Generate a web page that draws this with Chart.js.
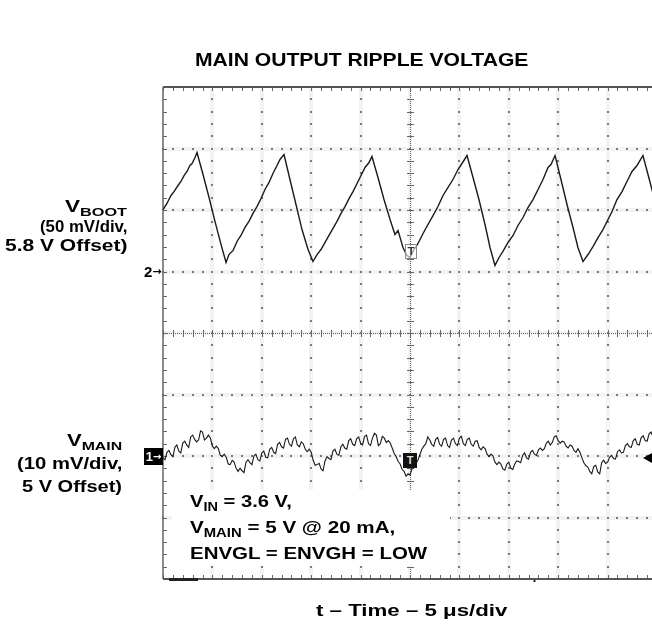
<!DOCTYPE html>
<html>
<head>
<meta charset="utf-8">
<script src="https://cdn.jsdelivr.net/npm/chart.js@4.4.1/dist/chart.umd.min.js"></script>
<style>
  html, body { margin: 0; padding: 0; overflow: hidden; background: #fff; width: 652px; height: 628px; }
  #wrap { position: absolute; left: 0; top: 0; width: 660px; height: 628px; }
  .t { position: absolute; white-space: nowrap; font-family: "Liberation Sans", Arial, Helvetica, sans-serif;
       font-weight: bold; color: #000; display: inline-block; }
  .sub { position: relative; top: 4px; font-size: 0.72em; }
  .mk { position: absolute; white-space: nowrap; font-family: "Liberation Sans", Arial, sans-serif; font-weight: bold; line-height: 1; }
  .ar { font-family: "DejaVu Sans", sans-serif; font-weight: bold; }
</style>
</head>
<body>
<div id="wrap"><canvas id="c" width="660" height="628"></canvas></div>

<span class="t" id="title" style="font-size:18px;line-height:18px">MAIN OUTPUT RIPPLE VOLTAGE</span>
<span class="t" id="b1" style="font-size:16px;line-height:16px">V<span class="sub">BOOT</span></span>
<span class="t" id="b2" style="font-size:16px;line-height:16px">(50 mV/div,</span>
<span class="t" id="b3" style="font-size:16px;line-height:16px">5.8 V Offset)</span>
<span class="t" id="m1" style="font-size:16px;line-height:16px">V<span class="sub">MAIN</span></span>
<span class="t" id="m2" style="font-size:16px;line-height:16px">(10 mV/div,</span>
<span class="t" id="m3" style="font-size:16px;line-height:16px">5 V Offset)</span>
<span class="t" id="a1" style="font-size:17px;line-height:17px">V<span class="sub">IN</span> = 3.6 V,</span>
<span class="t" id="a2" style="font-size:17px;line-height:17px">V<span class="sub">MAIN</span> = 5 V @ 20 mA,</span>
<span class="t" id="a3" style="font-size:17px;line-height:17px">ENVGL = ENVGH = LOW</span>
<span class="t" id="xl" style="font-size:16px;line-height:16px">t – Time – 5 μs/div</span>

<span class="mk" style="left:144px;top:264px;font-size:15px;color:#000">2<span class="ar" style="font-size:11px;position:relative;top:-2px">→</span></span>
<span class="mk" style="left:144px;top:448px;width:19px;height:17px;background:#000;color:#fff;font-size:13px;line-height:17px;text-align:center">1<span class="ar" style="font-size:10px;position:relative;top:-1px">→</span></span>
<span class="mk" style="left:405px;top:244px;width:10px;height:13px;border:1px solid #888;color:#333;font-size:11px;line-height:13px;text-align:center;background:rgba(255,255,255,0.6)">T</span>
<span class="mk" style="left:403px;top:453px;width:14px;height:15px;background:#111;color:#ddd;font-size:11px;line-height:15px;text-align:center">T</span>

<script>
// ---- data ----
// time in microseconds (5 us/div, 10 div)
const vbootTime = [0,0.40,0.81,1.11,1.52,1.82,2.13,2.43,2.73,2.94,3.24,3.44,4.05,4.66,5.26,5.87,6.38,6.68,7.09,7.49,7.89,8.30,8.70,9.11,9.51,9.92,10.32,10.73,11.13,11.54,11.84,12.25,12.85,13.46,14.07,14.68,15.18,15.59,15.99,16.40,16.80,17.21,17.61,18.02,18.42,18.83,19.23,19.64,20.04,20.45,20.85,21.15,21.76,22.37,22.98,23.48,23.79,24.29,24.70,25.00,25.30,25.81,26.32,26.82,27.33,27.83,28.34,28.85,29.35,29.86,30.26,30.77,31.38,31.98,32.59,33.10,33.60,34.01,34.41,34.92,35.43,35.93,36.44,36.94,37.45,37.96,38.46,38.97,39.27,39.68,40.28,40.89,41.50,42.00,42.51,43.02,43.52,44.03,44.53,44.94,45.45,45.95,46.46,46.96,47.47,47.98,48.58,49.09,49.49,50.00];
// V_BOOT ripple in mV above its 5.8 V offset marker (50 mV/div)
const vbootMv = [50.4,55.3,61.8,65.0,69.9,73.2,78.0,81.3,86.2,87.8,92.7,96.7,78.9,60.2,40.7,22.0,7.3,13.8,17.1,24.4,29.3,35.8,40.7,47.2,52.8,59.3,66.7,72.4,79.7,86.2,91.1,95.1,74.8,54.5,34.1,17.9,8.1,13.8,17.9,23.6,29.3,35.0,40.7,47.2,52.8,59.3,65.0,71.5,78.0,84.6,88.6,93.5,76.4,58.5,42.3,30.1,33.3,19.5,13.0,11.4,16.3,22.8,30.9,38.2,45.5,52.8,61.8,68.3,74.8,82.9,87.8,94.3,76.4,58.5,38.2,19.5,4.9,11.4,16.3,23.6,29.3,37.4,43.9,52.0,58.5,66.7,74.8,84.6,87.0,94.3,74.8,54.5,35.8,19.5,8.1,13.8,20.3,27.6,34.1,40.7,48.8,58.5,65.0,73.2,81.3,86.2,94.3,78.9,66.7,52.0];

const vmainTime = [
 0,0.2,0.4,0.6,0.8,1.0,1.2,1.4,1.6,1.8,2.0,2.2,2.4,2.6,2.8,3.0,3.2,3.4,3.6,3.8,
 4.0,4.2,4.4,4.6,4.8,5.0,5.2,5.4,5.6,5.8,6.0,6.2,6.4,6.6,6.8,7.0,7.2,7.4,7.6,7.8,
 8.0,8.2,8.4,8.6,8.8,9.0,9.2,9.4,9.6,9.8,10.0,10.2,10.4,10.6,10.8,11.0,11.2,11.4,11.6,11.8,
 12.0,12.2,12.4,12.6,12.8,13.0,13.2,13.4,13.6,13.8,14.0,14.2,14.4,14.6,14.8,15.0,15.2,15.4,15.6,15.8,
 16.0,16.2,16.4,16.6,16.8,17.0,17.2,17.4,17.6,17.8,18.0,18.2,18.4,18.6,18.8,19.0,19.2,19.4,19.6,19.8,
 20.0,20.2,20.4,20.6,20.8,21.0,21.2,21.4,21.6,21.8,22.0,22.2,22.4,22.6,22.8,23.0,23.2,23.4,23.6,23.8,
 24.0,24.2,24.4,24.6,24.8,25.0,25.2,25.4,25.6,25.8,26.0,26.2,26.4,26.6,26.8,27.0,27.2,27.4,27.6,27.8,
 28.0,28.2,28.4,28.6,28.8,29.0,29.2,29.4,29.6,29.8,30.0,30.2,30.4,30.6,30.8,31.0,31.2,31.4,31.6,31.8,
 32.0,32.2,32.4,32.6,32.8,33.0,33.2,33.4,33.6,33.8,34.0,34.2,34.4,34.6,34.8,35.0,35.2,35.4,35.6,35.8,
 36.0,36.2,36.4,36.6,36.8,37.0,37.2,37.4,37.6,37.8,38.0,38.2,38.4,38.6,38.8,39.0,39.2,39.4,39.6,39.8,
 40.0,40.2,40.4,40.6,40.8,41.0,41.2,41.4,41.6,41.8,42.0,42.2,42.4,42.6,42.8,43.0,43.2,43.4,43.6,43.8,
 44.0,44.2,44.4,44.6,44.8,45.0,45.2,45.4,45.6,45.8,46.0,46.2,46.4,46.6,46.8,47.0,47.2,47.4,47.6,47.8,
 48.0,48.2,48.4,48.6,48.8,49.0,49.2,49.4,49.6,49.8,50.0];
// V_MAIN ripple in mV above its 5 V offset marker (10 mV/div)
const vmainMv = [
 -0.3,-0.6,0.6,0.9,0.2,-0.1,1.4,1.8,0.8,0.5,
 2.1,2.4,1.8,1.4,3.1,3.4,2.7,2.3,2.6,4.1,
 3.9,2.6,2.9,3.4,2.9,1.6,1.2,1.6,1.2,0.1,
 -0.1,0.3,-0.2,-1.3,-1.4,-0.7,-1.0,-2.0,-2.5,-2.0,
 -2.4,-2.7,-1.0,-0.6,-1.1,-1.4,0.0,0.3,-0.6,-0.8,
 0.5,0.8,-0.2,-0.3,1.1,1.4,0.6,0.4,1.9,2.2,
 1.5,1.3,2.7,2.9,1.9,1.6,2.8,3.1,1.8,1.5,
 2.3,2.0,1.1,0.7,1.1,0.6,-0.7,-1.5,-1.4,-1.2,
 -2.1,-2.4,-0.8,-0.1,-0.4,-0.6,0.8,1.1,0.3,0.1,
 1.5,1.9,1.3,1.1,2.5,2.8,1.9,1.7,2.8,3.1,
 2.1,1.8,3.2,3.4,2.0,1.7,2.9,3.7,3.4,1.7,
 2.0,3.2,2.9,2.2,2.5,2.1,1.3,0.4,-0.1,-0.9,
 -1.3,-2.2,-2.5,-3.3,-2.9,-3.1,-2.1,-1.9,-1.2,-0.7,
 0.2,1.1,1.6,2.0,3.1,2.6,1.9,1.6,2.7,3.0,
 1.9,1.6,2.7,2.9,1.7,1.4,2.6,2.9,2.0,1.7,
 2.9,3.2,2.0,1.7,2.7,2.9,1.9,1.6,2.4,2.5,
 1.4,1.0,1.5,1.2,0.3,-0.1,0.3,0.0,-1.0,-1.4,
 -1.0,-1.3,-2.1,-2.3,-1.3,-1.0,-2.0,-2.2,-1.3,-0.8,
 -0.9,-1.1,0.1,0.5,-0.3,-0.5,0.6,0.9,0.3,0.1,
 1.0,1.3,0.9,1.2,2.1,2.4,1.8,2.2,3.1,3.3,
 2.5,2.1,2.4,2.3,1.6,1.3,1.8,1.6,0.9,0.6,
 1.2,0.6,-0.3,-1.1,-1.6,-1.8,-2.5,-2.9,-1.7,-1.5,
 -2.6,-2.9,-1.1,-0.7,-1.2,-1.0,-0.2,0.1,-0.4,-0.5,
 0.7,1.0,0.5,0.6,1.7,2.0,1.5,1.4,2.5,2.8,
 1.9,1.8,3.0,3.3,2.5,2.4,3.6,3.9,3.1,3.0,
 3.6];

// screen ranges (divisions): time 0..50 us, V_MAIN -20..60 mV, V_BOOT -250..150 mV
const timeRange = [0, 50];
const mainRange = [-20, 60];
const bootRange = [-250, 150];

const toXY = (ts, vs) => ts.map((t, i) => ({ x: t, y: vs[i] }));

const graticule = {
  id: 'graticule',
  beforeDatasetsDraw(chart) {
    const { ctx, chartArea: a, scales } = chart;
    const x = scales.x, y = scales.yMain;
    const xs = [], ys = [], xm = [], ym = [];
    for (let t = timeRange[0]; t <= timeRange[1] + 1e-6; t += 5) xs.push(Math.round(x.getPixelForValue(t)));
    for (let v = mainRange[0]; v <= mainRange[1] + 1e-6; v += 10) ys.push(Math.round(y.getPixelForValue(v)));
    for (let t = timeRange[0]; t <= timeRange[1] + 1e-6; t += 1) xm.push(Math.round(x.getPixelForValue(t)));
    for (let v = mainRange[0]; v <= mainRange[1] + 1e-6; v += 2) ym.push(Math.round(y.getPixelForValue(v)));
    const cx = xs[5], cy = ys[4];
    ctx.save();
    ctx.fillStyle = '#f2f2f2';
    for (let i = 1; i < ys.length - 1; i++) ctx.fillRect(a.left, ys[i] - 2, a.right - a.left, 4);
    for (let i = 1; i < xs.length - 1; i++) ctx.fillRect(xs[i] - 2, a.top, 4, a.bottom - a.top);
    ctx.fillStyle = '#7a7a7a';
    for (let i = 1; i < ys.length - 1; i++) {
      if (i === 4) continue;
      for (const px of xm) ctx.fillRect(px - 1, ys[i] - 1, 2, 2);
    }
    for (let i = 1; i < xs.length - 1; i++) {
      if (i === 5) continue;
      for (const py of ym) ctx.fillRect(xs[i] - 1, py - 1, 2, 2);
    }
    ctx.fillStyle = '#666';
    for (let px = a.left; px <= a.right; px += 2) ctx.fillRect(px, cy, 1, 1);
    for (let py = a.top; py <= a.bottom; py += 2) ctx.fillRect(cx, py, 1, 1);
    for (const px of xm) ctx.fillRect(px, cy - 3, 1, 7);
    for (const py of ym) ctx.fillRect(cx - 3, py, 7, 1);
    for (const py of ym) ctx.fillRect(a.left, py, 4, 1);
    for (const px of xm) { ctx.fillRect(px, a.top, 1, 4); ctx.fillRect(px, a.bottom - 4, 1, 4); }
    ctx.strokeStyle = '#555';
    ctx.lineWidth = 2;
    ctx.beginPath();
    ctx.moveTo(a.left, a.top); ctx.lineTo(a.right, a.top);
    ctx.moveTo(a.left, a.bottom); ctx.lineTo(a.right, a.bottom);
    ctx.stroke();
    ctx.strokeStyle = '#666';
    ctx.lineWidth = 1.5;
    ctx.beginPath();
    ctx.moveTo(a.left, a.top); ctx.lineTo(a.left, a.bottom);
    ctx.stroke();
    ctx.fillStyle = '#222';
    ctx.fillRect(a.left + 6, a.bottom - 1, 29, 3);
    ctx.fillRect(x.getPixelForValue(37.6) - 1, a.bottom + 1, 2, 2);
    ctx.fillStyle = '#fff';
    ctx.fillRect(172, 490, 278, 76);
    ctx.restore();
  },
  afterDatasetsDraw(chart) {
    const { ctx, scales } = chart;
    const py = Math.round(scales.yMain.getPixelForValue(-0.3));
    ctx.save();
    ctx.fillStyle = '#000';
    ctx.beginPath();
    ctx.moveTo(643, py); ctx.lineTo(652, py - 5); ctx.lineTo(652, py + 5);
    ctx.closePath(); ctx.fill();
    ctx.restore();
  }
};

new Chart(document.getElementById('c'), {
  type: 'line',
  data: {
    datasets: [
      { label: 'V_BOOT', data: toXY(vbootTime, vbootMv), yAxisID: 'yBoot', borderColor: '#1a1a1a', borderWidth: 1.4, pointRadius: 0, tension: 0, fill: false },
      { label: 'V_MAIN', data: toXY(vmainTime, vmainMv), yAxisID: 'yMain', borderColor: '#1a1a1a', borderWidth: 1.1, pointRadius: 0, tension: 0, fill: false }
    ]
  },
  options: {
    responsive: false,
    animation: false,
    devicePixelRatio: 1,
    layout: { padding: { left: 163, top: 87, right: 3, bottom: 49 } },
    scales: {
      x: { type: 'linear', min: timeRange[0], max: timeRange[1], display: false },
      yMain: { type: 'linear', min: mainRange[0], max: mainRange[1], display: false },
      yBoot: { type: 'linear', min: bootRange[0], max: bootRange[1], display: false }
    },
    plugins: { legend: { display: false }, tooltip: { enabled: false }, title: { display: false } }
  },
  plugins: [graticule]
});

function place(id, left, right, cy) {
  const el = document.getElementById(id);
  const w = el.offsetWidth, h = el.offsetHeight;
  el.style.left = left + 'px';
  el.style.top = (cy - h / 2) + 'px';
  el.style.transformOrigin = '0 50%';
  el.style.transform = 'scaleX(' + ((right - left) / w) + ')';
}
place('title', 195, 528, 60);
place('b1', 65, 127, 207);
place('b2', 40, 127, 227);
place('b3', 5, 127, 246);
place('m1', 67, 122, 441);
place('m2', 17, 122, 464);
place('m3', 22, 122, 487);
place('a1', 190, 292, 502);
place('a2', 190, 395, 528);
place('a3', 190, 427, 553);
place('xl', 316, 508, 611);
</script>
</body>
</html>
